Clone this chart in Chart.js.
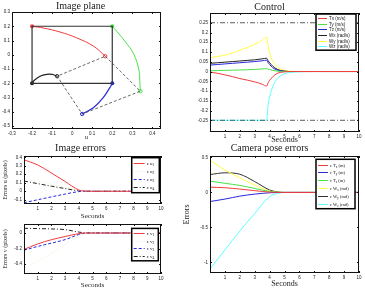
<!DOCTYPE html>
<html>
<head>
<meta charset="utf-8">
<script src="https://cdn.jsdelivr.net/npm/chart.js@4/dist/chart.umd.min.js"></script>
<style>
  body { margin: 0; background: #fff; width: 365px; height: 299px; overflow: hidden; position: relative; }
  canvas { position: absolute; }
</style>
</head>
<body>
<canvas id="plane" width="175" height="141" style="left:0;top:0"></canvas>
<canvas id="control" width="185" height="145" style="left:180px;top:0"></canvas>
<canvas id="errU" width="175" height="80" style="left:0;top:140px"></canvas>
<canvas id="errV" width="175" height="71" style="left:0;top:218px"></canvas>
<canvas id="pose" width="185" height="149" style="left:180px;top:140px"></canvas>
<script>
// --- image plane (u, v) ---
const desiredU = [-0.2, 0.2, 0.2, -0.2];
const desiredV = [0.2, 0.2, -0.2, -0.2];
const initialU = [0.165, 0.34, 0.05, -0.075];
const initialV = [-0.01, -0.255, -0.415, -0.15];
const trajRedU = [0.165, 0.107, 0.022, -0.061, -0.144, -0.2];
const trajRedV = [-0.01, 0.06, 0.119, 0.16, 0.188, 0.2];
const trajGreenU = [0.34, 0.337, 0.334, 0.308, 0.263, 0.222, 0.2];
const trajGreenV = [-0.255, -0.18, -0.114, 0.002, 0.095, 0.165, 0.2];
const trajBlueU = [0.05, 0.107, 0.155, 0.188, 0.2];
const trajBlueV = [-0.415, -0.37, -0.3, -0.23, -0.2];
const trajBlackU = [-0.075, -0.1, -0.127, -0.16, -0.19, -0.2];
const trajBlackV = [-0.15, -0.137, -0.137, -0.15, -0.18, -0.2];
const planeTicksU = [-0.3, -0.2, -0.1, 0, 0.1, 0.2, 0.3, 0.4];
const planeTicksV = [0.3, 0.2, 0.1, 0, -0.1, -0.2, -0.3, -0.4, -0.5];

// --- control ---
const ctrlTime = [0, 0.5, 1, 1.5, 2, 2.5, 3, 3.5, 3.8, 3.9, 4, 4.2, 4.5, 5, 5.5, 6, 7, 8, 9, 10];
const ctrlTx = [-0.003, -0.009, -0.017, -0.026, -0.036, -0.044, -0.053, -0.065, -0.075, -0.058, -0.045, -0.028, -0.01, -0.002, 0, 0, 0, 0, 0, 0];
const ctrlTy = [0.004, 0.005, 0.006, 0.007, 0.008, 0.009, 0.011, 0.013, 0.015, 0.012, 0.01, 0.006, 0.002, 0, 0, 0, 0, 0, 0, 0];
const ctrlTz = [0.033, 0.036, 0.039, 0.042, 0.045, 0.048, 0.051, 0.055, 0.058, 0.045, 0.036, 0.02, 0.008, 0.001, 0, 0, 0, 0, 0, 0];
const ctrlWx = [0.042, 0.045, 0.048, 0.051, 0.054, 0.057, 0.06, 0.065, 0.068, 0.055, 0.045, 0.028, 0.012, 0.002, 0, 0, 0, 0, 0, 0];
const ctrlWy = [0.072, 0.077, 0.084, 0.095, 0.11, 0.123, 0.14, 0.16, 0.178, 0.13, 0.095, 0.055, 0.025, 0.006, 0.001, 0, 0, 0, 0, 0];
const ctrlWz = [-0.25, -0.25, -0.25, -0.25, -0.25, -0.25, -0.25, -0.25, -0.25, -0.17, -0.13, -0.08, -0.038, -0.012, -0.004, -0.001, 0, 0, 0, 0];
const ctrlLimit = 0.25;
const ctrlTicksY = [0.25, 0.2, 0.15, 0.1, 0.05, 0, -0.05, -0.1, -0.15, -0.2, -0.25];

// --- image errors ---
const errTime = [0, 1, 2, 3, 4, 4.5, 5, 6, 7, 8, 9, 10];
const errU1 = [0.37, 0.31, 0.215, 0.115, 0.015, 0.002, 0, 0, 0, 0, 0, 0];
const errU2 = [0.14, 0.115, 0.085, 0.05, 0.01, 0.001, 0, 0, 0, 0, 0, 0];
const errU3 = [-0.135, -0.1, -0.066, -0.033, -0.004, 0, 0, 0, 0, 0, 0, 0];
const errU4 = [0.12, 0.09, 0.06, 0.032, 0.005, 0, 0, 0, 0, 0, 0, 0];
const errV1 = [-0.21, -0.14, -0.086, -0.045, -0.008, 0, 0, 0, 0, 0, 0, 0];
const errV2 = [-0.455, -0.36, -0.26, -0.15, -0.04, -0.005, 0, 0, 0, 0, 0, 0];
const errV3 = [-0.22, -0.172, -0.13, -0.085, -0.02, -0.002, 0, 0, 0, 0, 0, 0];
const errV4 = [0.06, 0.056, 0.052, 0.043, 0.012, 0.001, 0, 0, 0, 0, 0, 0];
const errTicksU = [0.4, 0.3, 0.2, 0.1, 0, -0.1];
const errTicksV = [0, -0.2, -0.4];

// --- camera pose errors ---
const poseTime = [0, 1, 2, 3, 4, 4.5, 5, 6, 7, 8, 9, 10];
const poseTx = [0.075, 0.067, 0.048, 0.025, 0.005, 0.001, 0, 0, 0, 0, 0, 0];
const poseTy = [-0.13, -0.095, -0.053, -0.024, -0.005, -0.001, 0, 0, 0, 0, 0, 0];
const poseTz = [0.162, 0.13, 0.1, 0.057, 0.014, 0.002, 0, 0, 0, 0, 0, 0];
const poseWx = [0.46, 0.32, 0.21, 0.105, 0.02, 0.003, 0, 0, 0, 0, 0, 0];
const poseWy = [0.255, 0.28, 0.26, 0.155, 0.035, 0.008, 0, 0, 0, 0, 0, 0];
const poseWz = [-1.09, -0.82, -0.55, -0.3, -0.06, -0.015, 0, 0, 0, 0, 0, 0];
const poseTicksY = [0.5, 0, -0.5, -1];

const secTicks = [1, 2, 3, 4, 5, 6, 7, 8, 9, 10];

const RED = 'rgb(240,60,60)', GREEN = 'rgb(70,225,70)', BLUE = 'rgb(40,40,220)';
const BLACK = '#222', YELLOW = 'rgb(255,255,70)', CYAN = 'rgb(90,255,255)', PALE = 'rgba(215,235,190,0.6)';
const serif = 'Liberation Serif';
const sans = 'Liberation Sans';

function pts(xs, ys) {
  return xs.map((x, i) => ({ x: x, y: ys[i] }));
}

function line(label, xs, ys, color, dash, width) {
  return {
    label: label, data: pts(xs, ys), showLine: true, borderColor: color,
    borderWidth: width || 1, borderDash: dash || [], pointRadius: 0,
    cubicInterpolationMode: 'monotone'
  };
}

function axis(o) {
  return {
    type: 'linear', min: o.min, max: o.max,
    afterBuildTicks: s => { s.ticks = o.ticks.map(v => ({ value: v })); },
    afterFit: s => {
      if (o.w !== undefined) s.width = o.w;
      if (o.h !== undefined) s.height = o.h;
    },
    grid: { display: false, drawTicks: false },
    border: { display: false },
    ticks: {
      font: { size: 4.5, family: sans }, color: '#222', padding: 2,
      autoSkip: false, maxRotation: 0,
      callback: v => String(+v.toFixed(3))
    },
    title: {
      display: !!o.title, text: o.title, color: '#222',
      font: { size: o.tsize || 8, family: serif }, padding: o.tpad || 0
    }
  };
}

// box around the plot with small inward ticks
const frame = {
  id: 'frame',
  afterDatasetsDraw(chart) {
    const { ctx, chartArea: a, scales } = chart;
    ctx.save();
    ctx.strokeStyle = '#111';
    ctx.lineWidth = 1;
    ctx.setLineDash([]);
    ctx.strokeRect(Math.round(a.left) + 0.5, Math.round(a.top) + 0.5, Math.round(a.width) - 1, Math.round(a.height) - 1);
    ctx.beginPath();
    scales.x.ticks.forEach(t => {
      const p = Math.round(scales.x.getPixelForValue(t.value)) + 0.5;
      ctx.moveTo(p, a.bottom); ctx.lineTo(p, a.bottom - 2);
      ctx.moveTo(p, a.top); ctx.lineTo(p, a.top + 2);
    });
    scales.y.ticks.forEach(t => {
      const p = Math.round(scales.y.getPixelForValue(t.value)) + 0.5;
      ctx.moveTo(a.left, p); ctx.lineTo(a.left + 2, p);
      ctx.moveTo(a.right, p); ctx.lineTo(a.right - 2, p);
    });
    ctx.stroke();
    ctx.restore();
  }
};

function drawLabel(ctx, text, x, y, size, family) {
  const parts = text.split(/_(.)/);
  ctx.textBaseline = 'middle';
  ctx.textAlign = 'left';
  ctx.fillStyle = '#111';
  parts.forEach((p, i) => {
    const sub = i % 2 === 1;
    ctx.font = (sub ? size * 0.7 : size) + 'px "' + family + '"';
    ctx.fillText(p, x, y + (sub ? size * 0.35 : 0));
    x += ctx.measureText(p).width;
  });
}

// matlab style legend inside the axes
const boxLegend = {
  id: 'boxLegend',
  afterDraw(chart, args, o) {
    if (!o.items) return;
    const ctx = chart.ctx, a = chart.chartArea;
    const x = a.right - o.right - o.w, y = a.top + o.top;
    const h = o.pad * 2 + o.items.length * o.row;
    ctx.save();
    ctx.fillStyle = '#fff';
    ctx.fillRect(x, y, o.w, h);
    ctx.lineWidth = o.border;
    ctx.strokeStyle = '#000';
    ctx.strokeRect(x, y, o.w, h);
    o.items.forEach((it, i) => {
      const cy = Math.round(y + o.pad + o.row * (i + 0.5)) + 0.5;
      ctx.beginPath();
      ctx.setLineDash(it.dash || []);
      ctx.strokeStyle = it.color;
      ctx.lineWidth = 1;
      ctx.moveTo(x + 2, cy);
      ctx.lineTo(x + 2 + o.line, cy);
      ctx.stroke();
      ctx.setLineDash([]);
      drawLabel(ctx, it.text, x + 4 + o.line, cy, o.font, o.family);
    });
    ctx.restore();
  }
};

function titleOpt(text, padBottom) {
  return {
    display: true, text: text, color: '#222',
    font: { size: 10, family: serif, weight: 'normal' },
    padding: { top: 0, bottom: padBottom }
  };
}

function makeChart(id, datasets, o) {
  new Chart(document.getElementById(id), {
    type: 'scatter',
    data: { datasets: datasets },
    options: {
      responsive: false, animation: false,
      layout: { padding: o.padding },
      scales: { x: o.x, y: o.y },
      plugins: {
        legend: { display: false },
        tooltip: { enabled: false },
        title: o.title || { display: false },
        boxLegend: o.legend || {}
      }
    },
    plugins: [frame, boxLegend]
  });
}

// Image plane
const rectU = desiredU.concat([desiredU[0]]);
const rectV = desiredV.concat([desiredV[0]]);
const quadU = initialU.concat([initialU[0]]);
const quadV = initialV.concat([initialV[0]]);
const markColors = [RED, GREEN, BLUE, BLACK];
const planeSets = [
  { data: pts(rectU, rectV), showLine: true, borderColor: '#333', borderWidth: 1.2, pointRadius: 0 },
  { data: pts(quadU, quadV), showLine: true, borderColor: '#444', borderWidth: 0.8, borderDash: [3, 2], pointRadius: 0 },
  { data: pts(trajRedU, trajRedV), showLine: true, borderColor: RED, borderWidth: 1, pointRadius: 0, tension: 0.4 },
  { data: pts(trajGreenU, trajGreenV), showLine: true, borderColor: GREEN, borderWidth: 1, pointRadius: 0, tension: 0.4 },
  { data: pts(trajBlueU, trajBlueV), showLine: true, borderColor: BLUE, borderWidth: 1.2, pointRadius: 0, tension: 0.4 },
  { data: pts(trajBlackU, trajBlackV), showLine: true, borderColor: BLACK, borderWidth: 1.2, pointRadius: 0, tension: 0.4 },
  { data: pts(desiredU, desiredV), showLine: false, pointRadius: 2, pointBorderWidth: 0, pointBackgroundColor: markColors },
  { data: pts(initialU, initialV), showLine: false, pointRadius: 1.7, pointBorderWidth: 1, pointBorderColor: markColors, pointBackgroundColor: 'rgba(255,255,255,0.3)' }
];
makeChart('plane', planeSets, {
  padding: { top: 0, left: 0, right: 14, bottom: 0 },
  title: titleOpt('Image plane', 0),
  x: axis({ min: -0.3, max: 0.443, ticks: planeTicksU, h: 12, title: 'u', tsize: 6 }),
  y: axis({ min: -0.52, max: 0.3, ticks: planeTicksV, w: 12 })
});

// Control
const limitDash = [5, 2, 1, 2];
const ctrlSets = [
  line('limit', [0, 10], [ctrlLimit, ctrlLimit], '#333', limitDash, 0.8),
  line('limit', [0, 10], [-ctrlLimit, -ctrlLimit], '#333', limitDash, 0.8),
  line('Tx (m/s)', ctrlTime, ctrlTx, RED),
  line('Ty (m/s)', ctrlTime, ctrlTy, GREEN),
  line('Tz (m/s)', ctrlTime, ctrlTz, BLUE),
  line('Wx (rad/s)', ctrlTime, ctrlWx, BLACK),
  line('Wy (rad/s)', ctrlTime, ctrlWy, YELLOW),
  line('Wz (rad/s)', ctrlTime, ctrlWz, CYAN)
];
makeChart('control', ctrlSets, {
  padding: { top: 1, left: 0, right: 6, bottom: 0 },
  title: titleOpt('Control', 0),
  x: axis({ min: 0, max: 10, ticks: secTicks, h: 13, title: 'Seconds' }),
  y: axis({ min: -0.31, max: 0.3, ticks: ctrlTicksY, w: 30 }),
  legend: {
    right: 3, top: 1, w: 40, row: 5.7, pad: 1, line: 9, border: 1.5, font: 4.5, family: sans,
    items: ctrlSets.slice(2).map(d => ({ text: d.label, color: d.borderColor }))
  }
});

// Image errors u
const dashed = [3, 2], dotted = [1, 1.5], dashDot = [4, 2, 1, 2];
const uSets = [
  line('ε u_1', errTime, errU1, RED),
  line('ε u_2', errTime, errU2, PALE, dotted),
  line('ε u_3', errTime, errU3, BLUE, dashed),
  line('ε u_4', errTime, errU4, BLACK, dashDot)
];
makeChart('errU', uSets, {
  padding: { top: 2, left: 0, right: 14, bottom: 0 },
  title: titleOpt('Image errors', 2),
  x: axis({ min: 0, max: 10, ticks: secTicks, h: 16, title: 'Seconds', tsize: 7 }),
  y: axis({ min: -0.15, max: 0.415, ticks: errTicksU, w: 24, title: 'Errors u (pixels)', tsize: 6, tpad: 2 }),
  legend: {
    right: 1.7, top: 1.7, w: 27.6, row: 8, pad: 1.5, line: 11, border: 1.5, font: 5, family: serif,
    items: uSets.map(d => ({ text: d.label, color: d.borderColor, dash: d.borderDash }))
  }
});

// Image errors v
const vSets = [
  line('ε v_1', errTime, errV1, RED),
  line('ε v_2', errTime, errV2, PALE, dotted),
  line('ε v_3', errTime, errV3, BLUE, dashed),
  line('ε v_4', errTime, errV4, BLACK, dashDot)
];
makeChart('errV', vSets, {
  padding: { top: 6, left: 0, right: 14, bottom: 0 },
  x: axis({ min: 0, max: 10, ticks: secTicks, h: 15, title: 'Seconds', tsize: 7 }),
  y: axis({ min: -0.525, max: 0.115, ticks: errTicksV, w: 24, title: 'Errors v (pixels)', tsize: 6, tpad: 2 }),
  legend: {
    right: 2.7, top: 4.4, w: 26.6, row: 7.6, pad: 1, line: 11, border: 1.5, font: 5, family: serif,
    items: vSets.map(d => ({ text: d.label, color: d.borderColor, dash: d.borderDash }))
  }
});

// Camera pose errors
const poseSets = [
  line('ε T_x (m)', poseTime, poseTx, RED),
  line('ε T_y (m)', poseTime, poseTy, BLUE),
  line('ε T_z (m)', poseTime, poseTz, GREEN),
  line('ε W_x (rad)', poseTime, poseWx, YELLOW),
  line('ε W_y (rad)', poseTime, poseWy, '#333'),
  line('ε W_z (rad)', poseTime, poseWz, CYAN)
];
makeChart('pose', poseSets, {
  padding: { top: 2, left: 0, right: 6, bottom: 0 },
  title: titleOpt('Camera pose errors', 2),
  x: axis({ min: 0, max: 10, ticks: secTicks, h: 16, title: 'Seconds' }),
  y: axis({ min: -1.15, max: 0.52, ticks: poseTicksY, w: 30, title: 'Errors', tsize: 8, tpad: 2 }),
  legend: {
    right: 4, top: 3.3, w: 39, row: 7.8, pad: 1.3, line: 10, border: 1.5, font: 4.5, family: serif,
    items: poseSets.map(d => ({ text: d.label, color: d.borderColor }))
  }
});
</script>
</body>
</html>
